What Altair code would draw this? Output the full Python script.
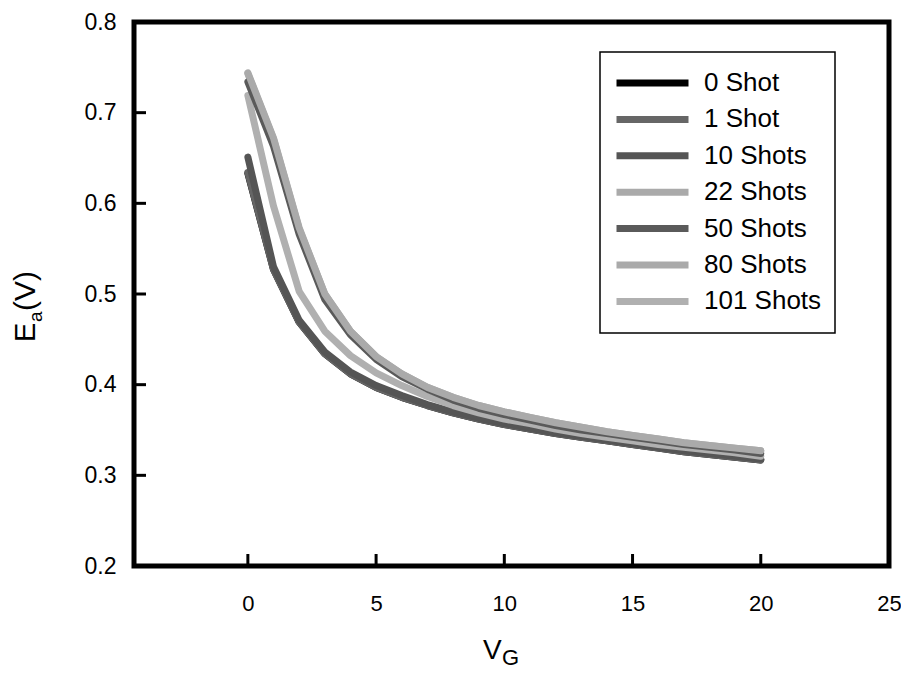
import altair as alt
import pandas as pd

FONT = "Liberation Sans"

# ---- data ----
vg_values = list(range(21))

series_names = ["0 Shot", "1 Shot", "10 Shots", "22 Shots", "50 Shots", "80 Shots", "101 Shots"]
series_colors = ["#000000", "#666666", "#555555", "#aaaaaa", "#5a5a5a", "#aaaaaa", "#b0b0b0"]
draw_order = ["0 Shot", "1 Shot", "10 Shots", "101 Shots", "22 Shots", "50 Shots", "80 Shots"]

ea_0_shot = [0.633, 0.527, 0.469, 0.434, 0.412, 0.397, 0.386, 0.377, 0.369, 0.362, 0.356,
             0.351, 0.346, 0.342, 0.338, 0.334, 0.330, 0.326, 0.323, 0.320, 0.317]
ea_1_shot = [0.634, 0.527, 0.469, 0.434, 0.412, 0.397, 0.386, 0.377, 0.369, 0.362, 0.356,
             0.351, 0.346, 0.342, 0.338, 0.334, 0.330, 0.326, 0.323, 0.320, 0.317]
ea_10_shots = [0.651, 0.530, 0.471, 0.436, 0.414, 0.399, 0.388, 0.378, 0.370, 0.363, 0.357,
               0.352, 0.347, 0.343, 0.339, 0.335, 0.331, 0.327, 0.324, 0.321, 0.318]
ea_22_shots = [0.743, 0.671, 0.572, 0.500, 0.459, 0.431, 0.412, 0.397, 0.386, 0.377, 0.370,
               0.364, 0.358, 0.353, 0.348, 0.344, 0.340, 0.336, 0.333, 0.330, 0.327]
ea_50_shots = [0.734, 0.663, 0.566, 0.494, 0.455, 0.428, 0.409, 0.395, 0.383, 0.374, 0.367,
               0.361, 0.355, 0.350, 0.346, 0.342, 0.338, 0.334, 0.331, 0.328, 0.324]
ea_80_shots = [0.744, 0.672, 0.573, 0.500, 0.459, 0.431, 0.412, 0.397, 0.386, 0.377, 0.370,
               0.364, 0.358, 0.353, 0.348, 0.344, 0.340, 0.336, 0.333, 0.330, 0.327]
ea_101_shots = [0.719, 0.597, 0.503, 0.459, 0.432, 0.413, 0.399, 0.387, 0.377, 0.369, 0.362,
                0.357, 0.351, 0.346, 0.342, 0.338, 0.334, 0.331, 0.328, 0.325, 0.321]

series_values = {
    "0 Shot": ea_0_shot,
    "1 Shot": ea_1_shot,
    "10 Shots": ea_10_shots,
    "22 Shots": ea_22_shots,
    "50 Shots": ea_50_shots,
    "80 Shots": ea_80_shots,
    "101 Shots": ea_101_shots,
}

x_ticks = [0, 5, 10, 15, 20, 25]
y_ticks = [0.2, 0.3, 0.4, 0.5, 0.6, 0.7, 0.8]
x_inner_ticks = [0, 5, 10, 15, 20]
y_inner_ticks = [0.3, 0.4, 0.5, 0.6, 0.7]

rows = []
for i, name in enumerate(draw_order):
    for vg, ea in zip(vg_values, series_values[name]):
        rows.append({"VG": vg, "Ea": ea, "series": name, "ord": i})
df = pd.DataFrame(rows)

W, H = 755, 544
TICK = 12

x_scale = alt.Scale(domain=[-4.44, 25], nice=False, zero=False)
y_scale = alt.Scale(domain=[0.2, 0.8], nice=False, zero=False)
x_axis = alt.Axis(values=x_ticks, title=None, orient="bottom",
                  ticks=False, domain=False, grid=False,
                  labelFontSize=22, labelFont=FONT, labelColor="black",
                  labelPadding=27, labelFlush=False)
y_axis = alt.Axis(values=y_ticks, format=".1f", title=None, orient="left",
                  ticks=False, domain=False, grid=False,
                  labelFontSize=23, labelFont=FONT, labelColor="black",
                  labelPadding=18, labelFlush=False)

lines = alt.Chart(df).mark_line(strokeWidth=7, strokeCap="round", strokeJoin="round").encode(
    x=alt.X("VG:Q", scale=x_scale, axis=x_axis),
    y=alt.Y("Ea:Q", scale=y_scale, axis=y_axis),
    color=alt.Color("series:N",
                    scale=alt.Scale(domain=series_names, range=series_colors),
                    legend=alt.Legend(orient="none", legendX=466, legendY=30, title=None,
                                      symbolType="stroke", symbolSize=5184,
                                      symbolStrokeWidth=7, labelFontSize=26,
                                      labelFont=FONT, labelColor="black", labelOffset=12,
                                      padding=13, clipHeight=36, rowPadding=0.4,
                                      strokeColor="black")),
    detail="ord:O",
    order="VG:Q",
)

x_tick_marks = alt.Chart(pd.DataFrame({"VG": x_inner_ticks})).mark_rule(
    color="black", strokeWidth=3
).encode(
    x=alt.X("VG:Q", scale=x_scale, axis=x_axis),
    y=alt.value(H),
    y2=alt.value(H - TICK),
)

y_tick_marks = alt.Chart(pd.DataFrame({"Ea": y_inner_ticks})).mark_rule(
    color="black", strokeWidth=3
).encode(
    y=alt.Y("Ea:Q", scale=y_scale, axis=y_axis),
    x=alt.value(0),
    x2=alt.value(TICK),
)

title_df = pd.DataFrame({"k": [0]})


def piece(txt, size, xv, yv, angle=0):
    return alt.Chart(title_df).mark_text(
        text=txt, fontSize=size, font=FONT, color="black", align="left",
        baseline="alphabetic", angle=angle
    ).encode(x=alt.value(xv), y=alt.value(yv))


y_title = [
    piece("E", 29, -99, 320, 270),
    piece("a", 19, -92, 300, 270),
    piece("(V)", 30, -99, 289, 270),
]
x_title = [
    piece("V", 28, 349, 637),
    piece("G", 22, 368, 643),
]

chart = alt.layer(lines, x_tick_marks, y_tick_marks, *y_title, *x_title).properties(
    width=W, height=H,
    padding={"left": 126, "top": 14, "right": 12, "bottom": 103},
    autosize=alt.AutoSizeParams(type="none"),
).configure_view(
    stroke="black", strokeWidth=5
).configure_legend(
    strokeWidth=1.5
)

chart.save("out.html", embed_options={"renderer": "svg", "actions": False})
